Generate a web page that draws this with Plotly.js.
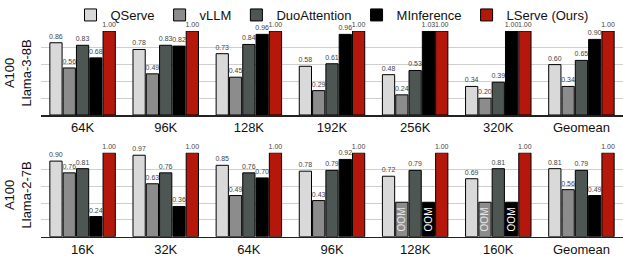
<!DOCTYPE html>
<html><head><meta charset="utf-8">
<script src="https://cdn.plot.ly/plotly-3.0.1.min.js"></script>
<style>html,body{margin:0;padding:0;background:#fff}</style>
</head><body><div id="chart" style="width:623px;height:257px"></div>
<script>
const seriesNames = ['QServe', 'vLLM', 'DuoAttention', 'MInference', 'LServe (Ours)'];
const seriesColors = ['#d9d9d9', '#8c8c8c', '#4e5654', '#000000', '#b5170a'];

const catsTop = ['64K', '96K', '128K', '192K', '256K', '320K', 'Geomean'];
const qserveTop = [0.86, 0.78, 0.73, 0.58, 0.48, 0.34, 0.60];
const vllmTop = [0.56, 0.49, 0.45, 0.29, 0.24, 0.20, 0.34];
const duoTop = [0.83, 0.83, 0.84, 0.61, 0.53, 0.39, 0.65];
const minferTop = [0.68, 0.82, 0.96, 0.96, 1.03, 1.00, 0.90];
const lserveTop = [1.00, 1.00, 1.00, 1.00, 1.00, 1.00, 1.00];

const catsBot = ['16K', '32K', '64K', '96K', '128K', '160K', 'Geomean'];
const qserveBot = [0.90, 0.97, 0.85, 0.78, 0.72, 0.69, 0.81];
const vllmBot = [0.76, 0.63, 0.49, 0.43, null, null, 0.56];   // null = OOM
const duoBot = [0.81, 0.76, 0.76, 0.79, 0.79, 0.81, 0.79];
const minferBot = [0.24, 0.36, 0.70, 0.92, null, null, 0.49]; // null = OOM
const lserveBot = [1.00, 1.00, 1.00, 1.00, 1.00, 1.00, 1.00];

const OOM_BAR = 0.41;   // placeholder height of the OOM marker bars
const Y_MAX = 1.0;      // axis cap

const panelTitles = ['A100<br>Llama-3-8B', 'A100<br>Llama-2-7B'];

const FONT = 'Liberation Sans, Arial, Helvetica, sans-serif';

function mkTraces(cats, seriesArr, xa, ya, legend) {
  const out = [];
  seriesArr.forEach((vals, i) => {
    out.push({
      type: 'bar', x: cats,
      y: vals.map(v => v == null ? null : Math.min(v, Y_MAX)),
      text: vals.map(v => v == null ? '' : v.toFixed(2)),
      textposition: 'outside', constraintext: 'none', cliponaxis: false,
      textfont: {size: 7, color: '#444', family: FONT},
      name: seriesNames[i], showlegend: legend, legendgroup: seriesNames[i],
      offsetgroup: 'g' + i,
      marker: {color: seriesColors[i], line: {color: '#000', width: 1}},
      xaxis: xa, yaxis: ya, hoverinfo: 'skip'
    });
    if (vals.some(v => v == null)) {
      out.push({
        type: 'bar', x: cats,
        y: vals.map(v => v == null ? OOM_BAR : null),
        text: vals.map(v => v == null ? 'OOM' : ''),
        textposition: 'inside', insidetextanchor: 'middle', textangle: -90,
        constraintext: 'none',
        insidetextfont: {size: 10, color: i === 3 ? '#ffffff' : '#e6e6e6', family: FONT},
        showlegend: false, offsetgroup: 'g' + i,
        marker: {color: seriesColors[i], line: {color: '#000', width: 1}},
        xaxis: xa, yaxis: ya, hoverinfo: 'skip'
      });
    }
  });
  return out;
}

const data = [].concat(
  mkTraces(catsTop, [qserveTop, vllmTop, duoTop, minferTop, lserveTop], 'x', 'y', true),
  mkTraces(catsBot, [qserveBot, vllmBot, duoBot, minferBot, lserveBot], 'x2', 'y2', false)
);

const H = 257;
const yax = (dom) => ({
  domain: dom, range: [0, Y_MAX], showticklabels: false, ticks: '',
  tickvals: [0.2, 0.4, 0.6, 0.8, 1.0], showgrid: true, gridcolor: '#cfcfcf', gridwidth: 1,
  zeroline: false, showline: false, fixedrange: true
});
const xax = (anchor) => ({
  anchor: anchor, domain: [0, 1], type: 'category', range: [-0.5, 6.5],
  showline: true, linecolor: '#222', linewidth: 1.5, ticks: '', showgrid: false,
  tickfont: {size: 13, color: '#111', family: FONT}, fixedrange: true
});

const layout = {
  width: 623, height: 257,
  margin: {l: 41, r: 0, t: 0, b: 0},
  paper_bgcolor: '#fff', plot_bgcolor: '#fff',
  barmode: 'group', bargap: 0.2, bargroupgap: 0.08,
  font: {family: FONT, color: '#111'},
  showlegend: true,
  legend: {orientation: 'h', x: 0.5, xanchor: 'center', y: 1, yanchor: 'top',
    font: {size: 13, family: FONT, color: '#111'}, traceorder: 'normal',
    itemwidth: 30, tracegroupgap: 0, bgcolor: 'rgba(0,0,0,0)'},
  xaxis: xax('y'),
  yaxis: yax([(H - 115) / H, (H - 31) / H]),
  xaxis2: xax('y2'),
  yaxis2: yax([(H - 236.7) / H, (H - 152.7) / H]),
  annotations: [
    {text: panelTitles[0], xref: 'paper', yref: 'paper', x: -0.0387, y: (H - 73) / H,
     xanchor: 'center', yanchor: 'middle', textangle: -90, showarrow: false,
     font: {size: 13, family: FONT, color: '#111'}},
    {text: panelTitles[1], xref: 'paper', yref: 'paper', x: -0.0387, y: (H - 195) / H,
     xanchor: 'center', yanchor: 'middle', textangle: -90, showarrow: false,
     font: {size: 13, family: FONT, color: '#111'}}
  ]
};

Plotly.newPlot('chart', data, layout, {displayModeBar: false, staticPlot: true});
</script></body></html>
